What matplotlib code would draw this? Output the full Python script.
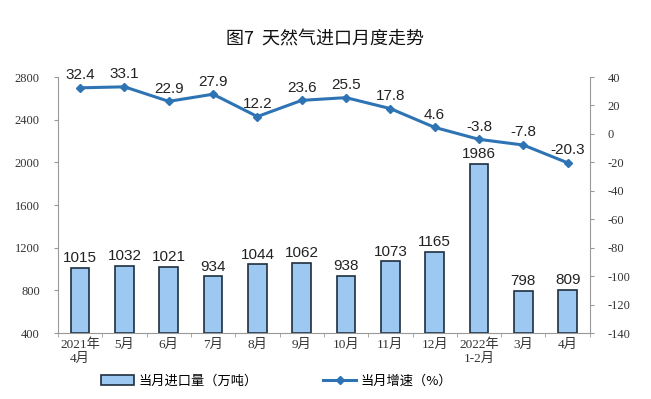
import matplotlib
matplotlib.use("Agg")
import matplotlib.pyplot as plt
import numpy as np

plt.rcParams['font.family'] = ['Liberation Sans', 'Noto Sans CJK SC']
plt.rcParams['axes.unicode_minus'] = False

months = ['2021年\n4月', '5月', '6月', '7月', '8月', '9月', '10月', '11月', '12月',
          '2022年\n1-2月', '3月', '4月']
imports = [1015, 1032, 1021, 934, 1044, 1062, 938, 1073, 1165, 1986, 798, 809]
growth = [32.4, 33.1, 22.9, 27.9, 12.2, 23.6, 25.5, 17.8, 4.6, -3.8, -7.8, -20.3]

bar_color = '#9DC8F2'
line_color = '#2E74B5'
serif = ['Liberation Serif', 'Noto Sans CJK SC']

fig = plt.figure(figsize=(6.51, 3.99), dpi=100)
ax = fig.add_axes([0.089, 0.165, 0.817, 0.642])
x = np.arange(len(months))

bars = ax.bar(x, [v - 400 for v in imports], bottom=400, width=0.42,
              color=bar_color, edgecolor='#1F2F3F', linewidth=1.2, zorder=2,
              label='当月进口量（万吨）')
for xi, v in zip(x, imports):
    ax.text(xi, v + 25, str(v), ha='center', va='bottom', fontsize=11, color='#222222')

ax.set_ylim(400, 2800)
ax.set_yticks(range(400, 2801, 400))
ax.set_xlim(-0.5, len(months) - 0.5)
ax.set_xticks(x)
ax.set_xticklabels(months, fontsize=9.5, family=serif, color='#333333')
ax.set_xticks(np.arange(-0.5, len(months), 1), minor=True)
ax.tick_params(axis='x', which='major', length=0, pad=4)
ax.tick_params(axis='x', which='minor', length=3, color='#999999')
ax.tick_params(axis='y', length=3, color='#999999', labelsize=9, labelcolor='#333333', pad=10)
for lab in ax.get_yticklabels():
    lab.set_family(serif)
for s in ['top', 'right']:
    ax.spines[s].set_visible(False)
for s in ['left', 'bottom']:
    ax.spines[s].set_color('#999999')

ax2 = ax.twinx()
line, = ax2.plot(x, growth, color=line_color, linewidth=2.2, marker='D', markersize=4,
                 zorder=3, label='当月增速（%）')
for xi, v in zip(x, growth):
    ax2.text(xi, v + 4, f'{v:.1f}', ha='center', va='bottom', fontsize=11, color='#222222')
ax2.set_ylim(-140, 40)
ax2.set_yticks(range(-140, 41, 20))
ax2.tick_params(axis='y', length=3, color='#999999', labelsize=9, labelcolor='#333333', pad=10)
for lab in ax2.get_yticklabels():
    lab.set_family(serif)
for s in ['top', 'left', 'bottom']:
    ax2.spines[s].set_visible(False)
ax2.spines['right'].set_color('#999999')

fig.text(0.5, 0.9, '图7  天然气进口月度走势', ha='center', va='center', fontsize=13,
         family=['Noto Sans CJK SC'], color='#111111')

fig.legend([bars, line], ['当月进口量（万吨）', '当月增速（%）'], loc='center',
           bbox_to_anchor=(0.425, 0.045), ncol=2, frameon=False, columnspacing=5,
           prop={'family': 'Noto Sans CJK SC', 'size': 9.5}, handlelength=2.5,
           handletextpad=0.3)

fig.savefig('out.png', dpi=100)
